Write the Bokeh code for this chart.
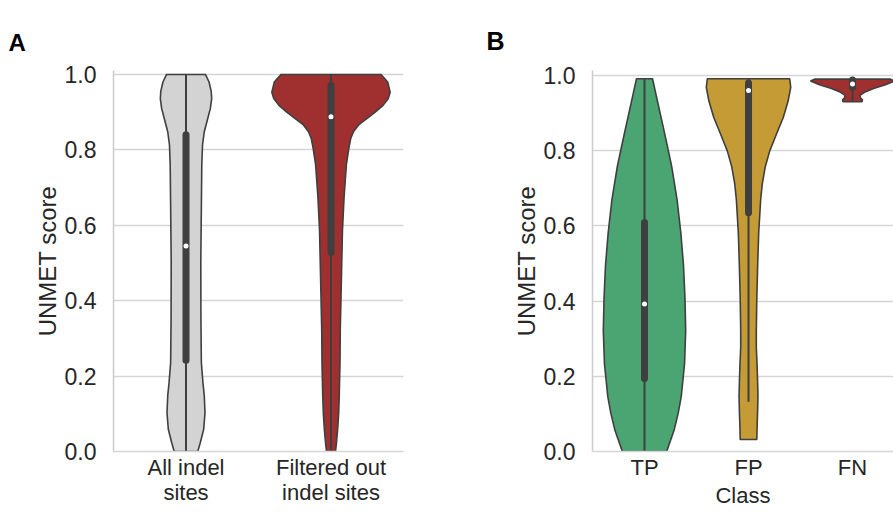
import numpy as np
from bokeh.plotting import figure
from bokeh.layouts import row
from bokeh.models import Range1d, FixedTicker, PrintfTickFormatter
from bokeh.embed import file_html
from bokeh.resources import INLINE

FONT = "Liberation Sans"
TEXT = "#262626"
EDGE = "#3f3f3f"
GRID = "#d5d5d5"

y_ticks = [0.0, 0.2, 0.4, 0.6, 0.8, 1.0]

# ---------------- Panel A data ----------------
a_categories = ["All indel\nsites", "Filtered out\nindel sites"]
a_colors = ["#d3d3d3", "#a0302f"]

all_score = [1.0, 0.98, 0.955, 0.936, 0.91, 0.883, 0.848, 0.813, 0.761, 0.65,
             0.5, 0.35, 0.235, 0.182, 0.148, 0.103, 0.059, 0.024, 0.0]
all_halfwidth = [0.134, 0.159, 0.174, 0.177, 0.168, 0.150, 0.126, 0.114, 0.109, 0.106,
                 0.102, 0.103, 0.106, 0.117, 0.126, 0.131, 0.122, 0.099, 0.081]

filt_score = [1.0, 0.98, 0.953, 0.936, 0.918, 0.9, 0.883, 0.866, 0.848, 0.83, 0.804,
              0.761, 0.673, 0.586, 0.498, 0.41, 0.323, 0.235, 0.148, 0.103, 0.06, 0.024, 0.0]
filt_halfwidth = [0.345, 0.391, 0.408, 0.395, 0.359, 0.305, 0.247, 0.190, 0.155, 0.136, 0.123,
                  0.106, 0.090, 0.079, 0.074, 0.069, 0.064, 0.062, 0.057, 0.053, 0.046, 0.038, 0.031]

a_min = [0.0, 0.0]
a_q1 = [0.242, 0.528]
a_median = [0.545, 0.888]
a_q3 = [0.840, 0.971]
a_max = [1.0, 1.0]

# ---------------- Panel B data ----------------
b_categories = ["TP", "FP", "FN"]
b_colors = ["#4ba573", "#c59b35", "#a0302f"]

tp_score = [0.991, 0.931, 0.844, 0.757, 0.67, 0.582, 0.495, 0.408, 0.321, 0.233,
            0.146, 0.102, 0.058, 0.0]
tp_halfwidth = [0.077, 0.125, 0.195, 0.262, 0.313, 0.349, 0.375, 0.389, 0.396, 0.385,
                0.353, 0.324, 0.286, 0.213]

fp_score = [0.991, 0.968, 0.931, 0.888, 0.844, 0.8, 0.757, 0.713, 0.67, 0.582,
            0.495, 0.408, 0.321, 0.277, 0.233, 0.19, 0.146, 0.102, 0.058, 0.032]
fp_halfwidth = [0.396, 0.406, 0.380, 0.334, 0.269, 0.205, 0.161, 0.133, 0.117, 0.098,
                0.088, 0.080, 0.075, 0.075, 0.082, 0.087, 0.091, 0.087, 0.082, 0.080]

fn_score = [0.99, 0.985, 0.975, 0.965, 0.955, 0.947, 0.94, 0.935, 0.93]
fn_halfwidth = [0.365, 0.404, 0.317, 0.202, 0.115, 0.072, 0.077, 0.096, 0.091]

b_min = [0.0, 0.132, 0.93]
b_q1 = [0.194, 0.635, 0.968]
b_median = [0.392, 0.96, 0.977]
b_q3 = [0.609, 0.98, 0.988]
b_max = [0.99, 0.99, 0.99]

H = 510


def violin_panel(width, b_left, b_right, b_top, b_bottom, x_end, y_end,
                 cats, colors, scores, halfwidths, mins, q1s, meds, q3s, maxs,
                 xlabel, letter, letter_size, letter_offset, letter_standoff):
    p = figure(width=width, height=H, output_backend="svg", toolbar_location=None,
               x_range=Range1d(-0.5, x_end), y_range=Range1d(0.0, y_end),
               min_border_left=b_left, min_border_right=b_right,
               min_border_top=b_top, min_border_bottom=b_bottom)
    p.outline_line_color = None
    p.background_fill_color = "white"
    p.border_fill_color = "white"

    # panel letter as title
    p.title.text = letter
    p.title.align = "left"
    p.title.vertical_align = "top"
    p.title.text_baseline = "middle"
    p.title.offset = letter_offset
    p.title.standoff = letter_standoff
    p.title.text_font = FONT
    p.title.text_font_size = letter_size
    p.title.text_font_style = "bold"
    p.title.text_color = "black"

    # grid
    p.xgrid.visible = False
    p.ygrid.grid_line_color = GRID
    p.ygrid.grid_line_width = 1.5

    # y axis
    yax = p.yaxis[0]
    yax.ticker = FixedTicker(ticks=y_ticks)
    yax.formatter = PrintfTickFormatter(format="%.1f")
    yax.axis_line_color = "#cccccc"
    yax.axis_line_width = 1.5
    yax.major_tick_line_color = None
    yax.minor_tick_line_color = None
    yax.major_tick_out = 0
    yax.major_tick_in = 0
    yax.major_label_standoff = 17
    yax.major_label_text_font = FONT
    yax.major_label_text_font_size = "23px"
    yax.major_label_text_color = TEXT
    yax.axis_label = "UNMET score"
    yax.axis_label_text_font = FONT
    yax.axis_label_text_font_size = "24px"
    yax.axis_label_text_font_style = "normal"
    yax.axis_label_text_color = TEXT
    yax.axis_label_standoff = 1

    # x axis
    xax = p.xaxis[0]
    xax.ticker = FixedTicker(ticks=list(range(len(cats))))
    xax.major_label_overrides = {i: c for i, c in enumerate(cats)}
    xax.axis_line_color = GRID
    xax.axis_line_width = 1.5
    xax.major_tick_line_color = None
    xax.minor_tick_line_color = None
    xax.major_tick_out = 0
    xax.major_tick_in = 0
    xax.major_label_standoff = 3
    xax.major_label_text_font = FONT
    xax.major_label_text_font_size = "22px"
    xax.major_label_text_color = TEXT
    xax.major_label_text_line_height = 1.0
    if xlabel:
        xax.axis_label = xlabel
        xax.axis_label_text_font = FONT
        xax.axis_label_text_font_size = "22px"
        xax.axis_label_text_font_style = "normal"
        xax.axis_label_text_color = TEXT
        xax.axis_label_standoff = 0

    # violins
    for i, (s, w) in enumerate(zip(scores, halfwidths)):
        s = np.asarray(s, dtype=float)
        w = np.asarray(w, dtype=float)
        xs = np.concatenate([i - w, (i + w)[::-1]])
        ys = np.concatenate([s, s[::-1]])
        p.patch(xs, ys, fill_color=colors[i], line_color=EDGE, line_width=1.6)

    idx = list(range(len(cats)))
    p.segment(x0=idx, y0=mins, x1=idx, y1=maxs, line_color=EDGE, line_width=2)
    p.segment(x0=idx, y0=q1s, x1=idx, y1=q3s, line_color=EDGE, line_width=7,
              line_cap="round")
    p.scatter(x=idx, y=meds, size=5, fill_color="white", line_color=None)
    return p


pa = violin_panel(440, 113, 37, 70, 56, 1.5, 1.0105,
                  a_categories, a_colors, [all_score, filt_score],
                  [all_halfwidth, filt_halfwidth],
                  a_min, a_q1, a_median, a_q3, a_max,
                  None, "A", "24px", -105, 26)

pb = violin_panel(453, 152, 0, 67, 56, 2.394, 1.013,
                  b_categories, b_colors, [tp_score, fp_score, fn_score],
                  [tp_halfwidth, fp_halfwidth, fn_halfwidth],
                  b_min, b_q1, b_median, b_q3, b_max,
                  "Class", "B", "25px", -106, 28)

layout = row(pa, pb)
open("out.html", "w").write(file_html(layout, INLINE))
